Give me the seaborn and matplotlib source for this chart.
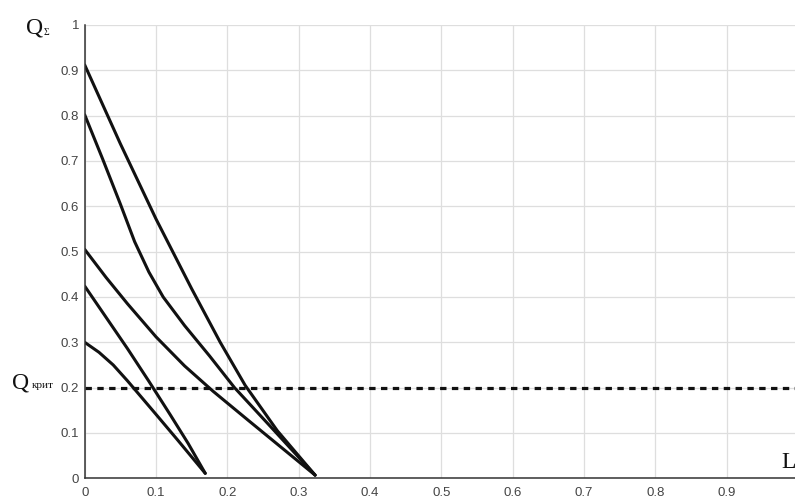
import pandas as pd
import matplotlib
matplotlib.use("Agg")
import matplotlib.pyplot as plt
import seaborn as sns

# ------------------- Data -------------------
L1 = [0, 0.05, 0.10, 0.15, 0.19, 0.225, 0.27, 0.323]
Q1 = [0.912, 0.738, 0.572, 0.418, 0.300, 0.205, 0.105, 0.007]

L2 = [0, 0.025, 0.05, 0.07, 0.09, 0.11, 0.14, 0.175, 0.21, 0.26, 0.323]
Q2 = [0.802, 0.705, 0.605, 0.522, 0.455, 0.400, 0.337, 0.270, 0.200, 0.115, 0.007]

L3 = [0, 0.03, 0.06, 0.10, 0.14, 0.18, 0.23, 0.323]
Q3 = [0.505, 0.443, 0.385, 0.312, 0.248, 0.192, 0.127, 0.007]

L4 = [0, 0.03, 0.06, 0.09, 0.12, 0.145, 0.169]
Q4 = [0.424, 0.355, 0.286, 0.214, 0.140, 0.077, 0.011]

L5 = [0, 0.02, 0.04, 0.06, 0.08, 0.10, 0.13, 0.169]
Q5 = [0.300, 0.278, 0.250, 0.215, 0.178, 0.141, 0.085, 0.011]

q_crit = 0.2
x_ticks = [0, 0.1, 0.2, 0.3, 0.4, 0.5, 0.6, 0.7, 0.8, 0.9]
y_ticks = [0, 0.1, 0.2, 0.3, 0.4, 0.5, 0.6, 0.7, 0.8, 0.9, 1]

curves = [(L1, Q1), (L2, Q2), (L3, Q3), (L4, Q4), (L5, Q5)]

# ------------------- Plot -------------------
sns.set_style("whitegrid")
plt.rcParams["font.family"] = ["Liberation Sans", "DejaVu Sans"]

W, H = 795, 500
fig = plt.figure(figsize=(W / 100, H / 100), dpi=100)
ax = fig.add_axes([84.7 / W, 21.7 / H, 1 - 84.7 / W, (478.3 - 25) / H])

for lx, qy in curves:
    df = pd.DataFrame({"L": lx, "Q": qy})
    sns.lineplot(data=df, x="L", y="Q", sort=False, color="#111111", lw=2.2,
                 solid_joinstyle="round", solid_capstyle="round", ax=ax)

ax.axhline(q_crit, color="#111111", lw=2.3, linestyle=(0, (2, 1.7)))

ax.set_xlim(0, (W - 84.7) / 713.3)
ax.set_ylim(0, 1)
ax.set_xticks(x_ticks)
ax.set_yticks(y_ticks)
ax.set_xticklabels([f"{v:g}" for v in x_ticks])
ax.set_yticklabels([f"{v:g}" for v in y_ticks])
ax.set_xlabel("")
ax.set_ylabel("")

ax.grid(True, color="#dedede", lw=0.9)
ax.tick_params(direction="in", length=4, width=1, color="#333333",
               labelcolor="#444444", labelsize=9.5, pad=4)
ax.tick_params(axis="x", pad=6)
for side in ["top", "right"]:
    ax.spines[side].set_visible(False)
for side in ["left", "bottom"]:
    ax.spines[side].set_color("#333333")
    ax.spines[side].set_linewidth(1.1)

# axis labels placed as in the reference
serif = ["Liberation Serif", "DejaVu Serif"]
fig.text(26 / W, 1 - 33 / H, "Q", family=serif, fontsize=17, color="#111111")
fig.text(43.5 / W, 1 - 35 / H, "Σ", family=serif, fontsize=7, color="#111111")
fig.text(12 / W, 1 - 388 / H, "Q", family=serif, fontsize=17, color="#111111")
fig.text(32 / W, 1 - 388 / H, "крит", family=serif, fontsize=8, color="#111111")
fig.text(781 / W, 1 - 468 / H, "L", family=serif, fontsize=17, color="#111111")

plt.savefig("out.png", dpi=100)
plt.close()
